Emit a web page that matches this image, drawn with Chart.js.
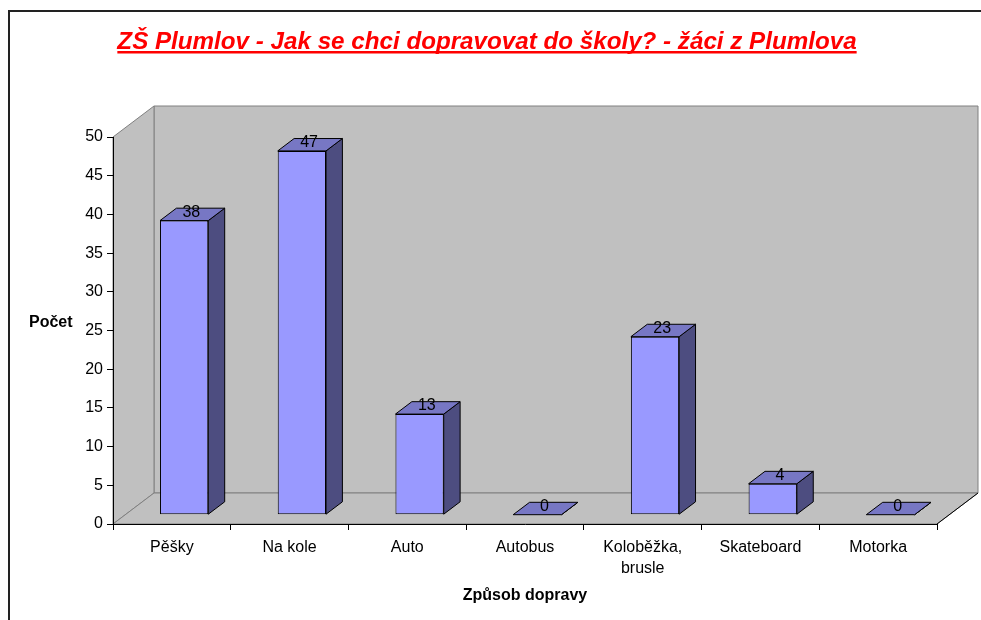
<!DOCTYPE html>
<html lang="cs">
<head>
<meta charset="UTF-8">
<title>ZŠ Plumlov - doprava do školy</title>
<style>
  html, body { margin: 0; padding: 0; background: #fff; }
  .chartBox { width: 981px; height: 620px; }
</style>
</head>
<body>

<!-- místo pro graf -->
<div class="chartBox">
  <canvas id="dopravaChart" width="981" height="620"></canvas>
</div>

<script src="https://cdn.jsdelivr.net/npm/chart.js"></script>
<script>
// data z grafu
const kategorie = ['Pěšky', 'Na kole', 'Auto', 'Autobus', ['Koloběžka,', 'brusle'], 'Skateboard', 'Motorka'];
const pocty = [38, 47, 13, 0, 23, 4, 0];
const osaYmin = 0, osaYmax = 50, osaYkrok = 5;
const nadpis = 'ZŠ Plumlov - Jak se chci dopravovat do školy? - žáci z Plumlova';
const popisY = 'Počet';
const popisX = 'Způsob dopravy';

const FONT = '"Liberation Sans", Arial, sans-serif';
// hloubka 3D (posun zadní stěny) a poloha sloupce v hloubce
const HL = { dx: 41, dy: -31 };
const PRED = 0.3;     // přední stěna sloupce
const HLOUBKA = 0.4;  // hloubka sloupce

function poly(c, body) {
    c.beginPath();
    c.moveTo(body[0][0], body[0][1]);
    for (let i = 1; i < body.length; i++) c.lineTo(body[i][0], body[i][1]);
    c.closePath();
}

const plugin3D = {
    id: 'plugin3D',
    beforeDraw(chart) {
        const c = chart.ctx;
        const a = chart.chartArea;
        c.save();
        c.fillStyle = '#fff';
        c.fillRect(0, 0, chart.width, chart.height);

        // rámeček
        c.strokeStyle = '#222';
        c.lineWidth = 2;
        c.strokeRect(9, 11, chart.width + 20, chart.height + 20);

        // nadpis
        c.font = 'italic bold 24.2px ' + FONT;
        c.fillStyle = '#FF0000';
        c.textAlign = 'center';
        c.textBaseline = 'alphabetic';
        const sirka = c.measureText(nadpis).width;
        c.fillText(nadpis, 487, 48.5);
        c.fillRect(487 - sirka / 2, 51, sirka, 2.5);

        // popis osy Y (vodorovně)
        c.font = 'bold 16px ' + FONT;
        c.fillStyle = '#000';
        c.textAlign = 'left';
        c.textBaseline = 'middle';
        c.fillText(popisY, 29, 323);

        // stěny a podlaha
        const L = a.left, R = a.right, T = a.top, B = a.bottom, dx = HL.dx, dy = HL.dy;
        c.fillStyle = '#C0C0C0';
        c.strokeStyle = '#808080';
        c.lineWidth = 1;
        poly(c, [[L + dx, T + dy], [R + dx, T + dy], [R + dx, B + dy], [L + dx, B + dy]]);
        c.fill(); c.stroke();
        poly(c, [[L, T], [L + dx, T + dy], [L + dx, B + dy], [L, B]]);
        c.fill(); c.stroke();
        poly(c, [[L, B], [R, B], [R + dx, B + dy], [L + dx, B + dy]]);
        c.fill(); c.stroke();
        c.strokeStyle = '#000';
        c.beginPath();
        c.moveTo(R, B); c.lineTo(R + dx, B + dy);
        c.stroke();
        c.restore();
    },
    beforeDatasetDraw(chart) {
        chart.ctx.save();
        chart.ctx.translate(HL.dx * PRED, HL.dy * PRED);
    },
    afterDatasetDraw(chart, args) {
        const c = chart.ctx;
        const sx = HL.dx * HLOUBKA, sy = HL.dy * HLOUBKA;
        c.lineWidth = 1;
        c.strokeStyle = '#000';
        args.meta.data.forEach(el => {
            const p = el.getProps(['x', 'y', 'base', 'width'], true);
            const l = p.x - p.width / 2, r = p.x + p.width / 2;
            // bok
            poly(c, [[r, p.y], [r + sx, p.y + sy], [r + sx, p.base + sy], [r, p.base]]);
            c.fillStyle = '#4D4D80';
            c.fill(); c.stroke();
            // vršek
            poly(c, [[l, p.y], [r, p.y], [r + sx, p.y + sy], [l + sx, p.y + sy]]);
            c.fillStyle = '#7777C4';
            c.fill(); c.stroke();
        });
        c.restore();
    },
    afterDatasetsDraw(chart) {
        const c = chart.ctx;
        const meta = chart.getDatasetMeta(0);
        c.save();
        c.font = '16px ' + FONT;
        c.fillStyle = '#000';
        c.textAlign = 'center';
        c.textBaseline = 'middle';
        meta.data.forEach((el, i) => {
            const p = el.getProps(['x', 'y'], true);
            const x = p.x + HL.dx * (PRED + HLOUBKA / 2) - 1;
            const y = p.y + HL.dy * (PRED + HLOUBKA / 2) - 2;
            c.fillText(String(pocty[i]), x, y);
        });
        c.restore();
    }
};

const config = {
    type: 'bar',
    data: {
        labels: kategorie,
        datasets: [{
            label: popisY,
            data: pocty,
            backgroundColor: '#9999FF',
            borderColor: '#000',
            borderWidth: 1,
            borderSkipped: false,
            categoryPercentage: 1,
            barPercentage: 0.41
        }]
    },
    options: {
        responsive: false,
        animation: false,
        layout: { padding: { left: 0, right: 44, top: 137, bottom: 0 } },
        plugins: {
            legend: { display: false },
            tooltip: { enabled: false },
            title: { display: false }
        },
        scales: {
            x: {
                afterFit: s => { s.height = 96; },
                grid: { display: true, drawOnChartArea: false, offset: true, tickLength: 6, color: '#000' },
                border: { display: true, color: '#000', width: 1 },
                ticks: { color: '#000', font: { family: FONT, size: 16, lineHeight: 1.32 }, padding: 7, maxRotation: 0, autoSkip: false },
                title: {
                    display: true, text: popisX, color: '#000',
                    font: { family: FONT, size: 16, weight: 'bold' },
                    padding: { top: 4, bottom: 15 }
                }
            },
            y: {
                min: osaYmin, max: osaYmax,
                afterFit: s => { s.width = 113; },
                grid: { display: true, drawOnChartArea: false, tickLength: 6, color: '#000' },
                border: { display: true, color: '#000', width: 1 },
                ticks: { stepSize: osaYkrok, color: '#000', font: { family: FONT, size: 16 }, padding: 4 }
            }
        }
    },
    plugins: [plugin3D]
};

const ctx = document.getElementById('dopravaChart');
const dopravaChart = new Chart(ctx, config);
</script>
</body>
</html>
